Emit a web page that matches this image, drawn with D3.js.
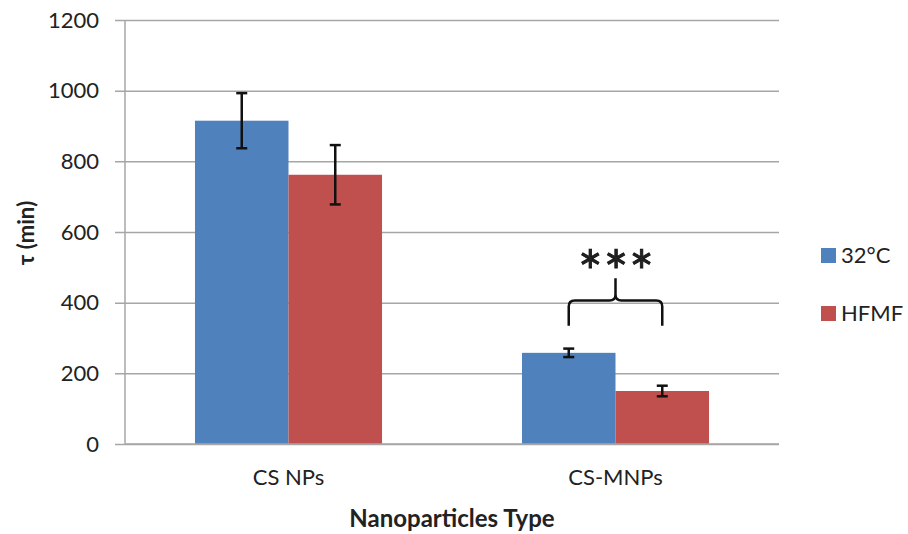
<!DOCTYPE html>
<html>
<head>
<meta charset="utf-8">
<script src="https://cdn.jsdelivr.net/npm/d3@7"></script>
<style>
  html, body { margin: 0; padding: 0; background: #fff; }
  svg { display: block; }
  text { font-family: Lato, "Open Sans", sans-serif; fill: #222; }
</style>
</head>
<body>
<svg id="chart" width="908" height="534"></svg>
<script>
// Relaxation time by nanoparticle type and condition
const categories = ["CS NPs", "CS-MNPs"];
const seriesNames = ["32°C", "HFMF"];
const seriesColors = ["#4f81bd", "#c0504d"];
const values32C = [915, 258];
const valuesHFMF = [762, 150];
const errors32C = [78, 12];
const errorsHFMF = [84, 15];
const yTicks = [0, 200, 400, 600, 800, 1000, 1200];
const significance = "***";

const svg = d3.select("#chart");
const plot = { left: 125, right: 779, top: 20, bottom: 444 };

const x = d3.scaleBand().domain(categories).range([plot.left, plot.right]).paddingInner(0).paddingOuter(0);
const inner = d3.scaleBand().domain(seriesNames).range([0, x.bandwidth() * 0.572]).padding(0);
const innerOffset = (x.bandwidth() - inner.range()[1]) / 2;
const y = d3.scaleLinear().domain([0, 1200]).range([plot.bottom, plot.top]);

// Horizontal gridlines with tick marks reaching left of the axis
const yAxis = d3.axisLeft(y).tickValues(yTicks).tickSize(plot.right - plot.left + 10).tickPadding(16).tickFormat(d3.format("d"));
const gy = svg.append("g").attr("transform", `translate(${plot.right},0)`).call(yAxis);
gy.select(".domain").remove();
gy.selectAll(".tick line").attr("stroke", "#a6a6a6").attr("stroke-width", 1.5);
gy.selectAll(".tick text").attr("font-size", 22).attr("fill", "#222");

// Vertical axis line
svg.append("line")
  .attr("x1", plot.left).attr("x2", plot.left)
  .attr("y1", plot.top).attr("y2", plot.bottom)
  .attr("stroke", "#a6a6a6").attr("stroke-width", 1.5);

const rows = categories.map((c, i) => [
  { cat: c, s: seriesNames[0], v: values32C[i], e: errors32C[i], color: seriesColors[0] },
  { cat: c, s: seriesNames[1], v: valuesHFMF[i], e: errorsHFMF[i], color: seriesColors[1] }
]).flat();

const bx = d => x(d.cat) + innerOffset + inner(d.s);

svg.append("g").selectAll("rect").data(rows).join("rect")
  .attr("x", bx)
  .attr("y", d => y(d.v))
  .attr("width", inner.bandwidth())
  .attr("height", d => y(0) - y(d.v))
  .attr("fill", d => d.color);

// Error bars
const eb = svg.append("g").attr("stroke", "#111").attr("stroke-width", 2.5);
rows.forEach(d => {
  const cx = bx(d) + inner.bandwidth() / 2;
  eb.append("line").attr("x1", cx).attr("x2", cx).attr("y1", y(d.v + d.e)).attr("y2", y(d.v - d.e));
  [d.v + d.e, d.v - d.e].forEach(v => {
    eb.append("line").attr("x1", cx - 5.5).attr("x2", cx + 5.5).attr("y1", y(v)).attr("y2", y(v));
  });
});

// Bottom axis baseline
svg.append("line")
  .attr("x1", plot.left).attr("x2", plot.right)
  .attr("y1", plot.bottom).attr("y2", plot.bottom)
  .attr("stroke", "#a6a6a6").attr("stroke-width", 1.5);

// Category labels
svg.append("g").selectAll("text").data(categories).join("text")
  .attr("x", d => x(d) + x.bandwidth() / 2)
  .attr("y", 485)
  .attr("text-anchor", "middle")
  .attr("font-size", 22)
  .text(d => d);

// Axis titles
svg.append("text")
  .attr("x", 452).attr("y", 527)
  .attr("text-anchor", "middle")
  .attr("font-size", 24).attr("font-weight", "bold")
  .attr("fill", "#111")
  .text("Nanoparticles Type");

svg.append("text")
  .attr("transform", "translate(34,233) rotate(-90)")
  .attr("text-anchor", "middle")
  .attr("font-size", 22).attr("font-weight", "bold")
  .attr("fill", "#111")
  .text("τ (min)");

// Significance brace over the CS-MNPs pair
const c2 = categories[1];
const leftX = x(c2) + innerOffset + inner(seriesNames[0]) + inner.bandwidth() / 2;
const rightX = x(c2) + innerOffset + inner(seriesNames[1]) + inner.bandwidth() / 2;
const midX = (leftX + rightX) / 2;
const braceTop = y(406), braceEnd = y(335), braceTip = y(469);
const r = 6;
const brace = d3.path();
brace.moveTo(leftX, braceEnd);
brace.lineTo(leftX, braceTop + r);
brace.quadraticCurveTo(leftX, braceTop, leftX + r, braceTop);
brace.lineTo(midX - r, braceTop);
brace.quadraticCurveTo(midX, braceTop, midX, braceTop - r);
brace.lineTo(midX, braceTip);
brace.moveTo(midX, braceTop - r);
brace.quadraticCurveTo(midX, braceTop, midX + r, braceTop);
brace.lineTo(rightX - r, braceTop);
brace.quadraticCurveTo(rightX, braceTop, rightX, braceTop + r);
brace.lineTo(rightX, braceEnd);
svg.append("path").attr("d", brace.toString())
  .attr("fill", "none").attr("stroke", "#111").attr("stroke-width", 2.5);

svg.append("text")
  .attr("x", midX + 1).attr("y", 293)
  .attr("text-anchor", "middle")
  .attr("font-family", "DejaVu Sans")
  .attr("font-size", 58)
  .attr("letter-spacing", 1)
  .attr("fill", "#111")
  .attr("stroke", "#111")
  .attr("stroke-width", 0.8)
  .text(significance);

// Legend
const legend = svg.append("g").attr("transform", "translate(821,248)");
seriesNames.forEach((s, i) => {
  const g = legend.append("g").attr("transform", `translate(0,${i * 58})`);
  g.append("rect").attr("width", 15).attr("height", 15).attr("fill", seriesColors[i]);
  g.append("text").attr("x", 20).attr("y", 15).attr("font-size", 22).text(s);
});
</script>
</body>
</html>
